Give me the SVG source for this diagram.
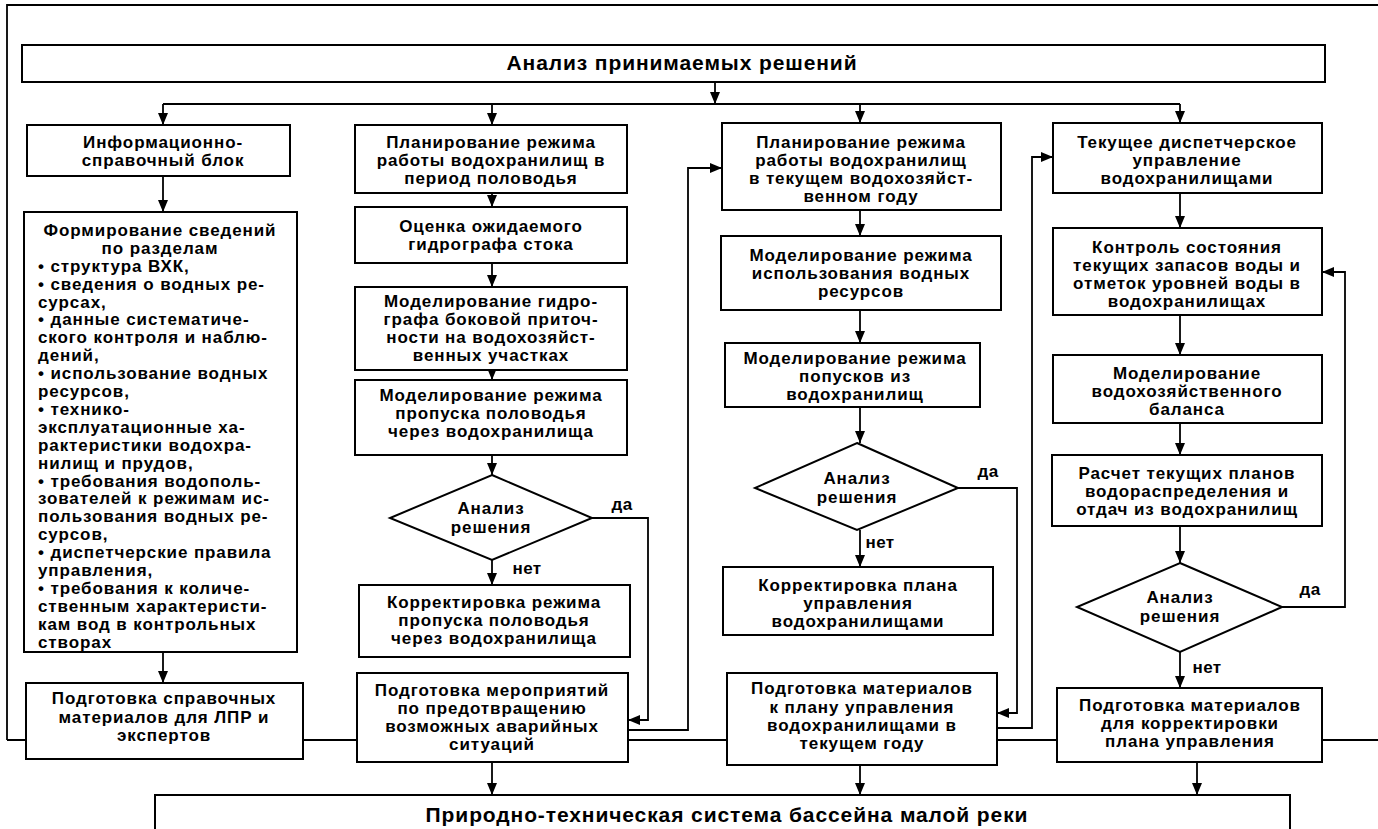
<svg xmlns="http://www.w3.org/2000/svg" width="1378" height="829" viewBox="0 0 1378 829">
<defs>
<marker id="ah" viewBox="0 0 12 10" refX="12" refY="5" markerWidth="12" markerHeight="10" markerUnits="userSpaceOnUse" orient="auto">
<path d="M0,0 L12,5 L0,10 Z" fill="#000"/>
</marker>
<style>
.b{fill:#fff;stroke:#000;stroke-width:2}
.t{font-family:"Liberation Sans",Arial,sans-serif;font-weight:bold;font-size:17px;letter-spacing:0.9px;fill:#000;text-anchor:middle}
.l{text-anchor:start}
.big{font-size:21px;letter-spacing:0.9px}
.lab{font-size:17px;letter-spacing:0.4px}
.c{fill:none;stroke:#000;stroke-width:1.8}
.a{marker-end:url(#ah)}
</style>
</defs>
<rect width="1378" height="829" fill="#fff"/>
<g id="connectors">
<path class="c" d="M7,740 V5 H1378"/>
<path class="c" d="M7,740 H1378"/>
<path class="c a" d="M715,82 V104"/>
<path class="c" d="M163,104 H1180"/>
<path class="c a" d="M163,104 V125"/>
<path class="c a" d="M492,104 V125"/>
<path class="c a" d="M860,104 V123"/>
<path class="c a" d="M1180,104 V123"/>
<path class="c a" d="M163,176 V212"/>
<path class="c a" d="M163,652 V683"/>
<path class="c a" d="M492,193 V207"/>
<path class="c a" d="M492,263 V287"/>
<path class="c a" d="M492,370 V380"/>
<path class="c a" d="M492,455 V475"/>
<path class="c a" d="M492,560 V585"/>
<path class="c a" d="M492,762 V795"/>
<path class="c a" d="M592,518 H648 V720 H628"/>
<path class="c a" d="M628,730 H688 V168 H722"/>
<path class="c a" d="M860,210 V236"/>
<path class="c a" d="M860,310 V343"/>
<path class="c a" d="M860,407 V443"/>
<path class="c a" d="M860,530 V567"/>
<path class="c a" d="M860,765 V795"/>
<path class="c a" d="M958,488 H1017 V713 H997"/>
<path class="c a" d="M997,728 H1032 V157 H1053"/>
<path class="c a" d="M1180,193 V228"/>
<path class="c a" d="M1180,315 V355"/>
<path class="c a" d="M1180,423 V455"/>
<path class="c a" d="M1180,526 V563"/>
<path class="c a" d="M1180,652 V688"/>
<path class="c a" d="M1197,762 V795"/>
<path class="c a" d="M1282,607 H1345 V272 H1322"/>
</g>
<g id="title">
<rect class="b" x="22" y="45" width="1303" height="37"/>
<text class="t big" x="682" y="70">Анализ принимаемых решений</text>
</g>
<g id="info">
<rect class="b" x="27" y="125" width="263" height="51"/>
<text class="t" x="163" y="148">Информационно-</text>
<text class="t" x="163" y="166">справочный блок</text>
</g>
<g id="forming">
<rect class="b" x="24" y="212" width="273" height="440"/>
<text class="t" x="160" y="236">Формирование сведений</text>
<text class="t" x="160" y="254">по разделам</text>
<text class="t l" x="38" y="272">•  структура ВХК,</text>
<text class="t l" x="38" y="290">•  сведения о водных ре-</text>
<text class="t l" x="38" y="308">сурсах,</text>
<text class="t l" x="38" y="325">•  данные систематиче-</text>
<text class="t l" x="38" y="343">ского контроля и наблю-</text>
<text class="t l" x="38" y="361">дений,</text>
<text class="t l" x="38" y="379">•  использование водных</text>
<text class="t l" x="38" y="397">ресурсов,</text>
<text class="t l" x="38" y="415">•  технико-</text>
<text class="t l" x="38" y="433">эксплуатационные ха-</text>
<text class="t l" x="38" y="451">рактеристики водохра-</text>
<text class="t l" x="38" y="469">нилищ и прудов,</text>
<text class="t l" x="38" y="487">•  требования водополь-</text>
<text class="t l" x="38" y="504">зователей к режимам ис-</text>
<text class="t l" x="38" y="522">пользования водных ре-</text>
<text class="t l" x="38" y="540">сурсов,</text>
<text class="t l" x="38" y="558">•  диспетчерские правила</text>
<text class="t l" x="38" y="576">управления,</text>
<text class="t l" x="38" y="594">•  требования к количе-</text>
<text class="t l" x="38" y="612">ственным характеристи-</text>
<text class="t l" x="38" y="630">кам вод в контрольных</text>
<text class="t l" x="38" y="648">створах</text>
</g>
<g id="ref-materials">
<rect class="b" x="26" y="683" width="277" height="76"/>
<text class="t" x="164" y="704">Подготовка справочных</text>
<text class="t" x="164" y="723">материалов для ЛПР и</text>
<text class="t" x="164" y="741">экспертов</text>
</g>
<g id="flood-plan">
<rect class="b" x="355" y="125" width="272" height="68"/>
<text class="t" x="491" y="148">Планирование режима</text>
<text class="t" x="491" y="166">работы водохранилищ в</text>
<text class="t" x="491" y="184">период половодья</text>
</g>
<g id="hydrograph">
<rect class="b" x="355" y="207" width="272" height="56"/>
<text class="t" x="491" y="232">Оценка ожидаемого</text>
<text class="t" x="491" y="250">гидрографа стока</text>
</g>
<g id="lateral">
<rect class="b" x="355" y="287" width="272" height="83"/>
<text class="t" x="491" y="307">Моделирование гидро-</text>
<text class="t" x="491" y="325">графа боковой приточ-</text>
<text class="t" x="491" y="343">ности на водохозяйст-</text>
<text class="t" x="491" y="361">венных участках</text>
</g>
<g id="flood-pass">
<rect class="b" x="355" y="380" width="272" height="75"/>
<text class="t" x="491" y="401">Моделирование режима</text>
<text class="t" x="491" y="419">пропуска половодья</text>
<text class="t" x="491" y="437">через водохранилища</text>
</g>
<g id="decision1">
<polygon class="b" points="492,475 592,518 492,560 390,518"/>
<text class="t" x="491" y="514">Анализ</text>
<text class="t" x="491" y="533">решения</text>
<text class="t lab" x="622" y="510">да</text>
<text class="t lab" x="527" y="574">нет</text>
</g>
<g id="flood-correct">
<rect class="b" x="359" y="585" width="271" height="72"/>
<text class="t" x="494" y="608">Корректировка режима</text>
<text class="t" x="494" y="626">пропуска половодья</text>
<text class="t" x="494" y="644">через водохранилища</text>
</g>
<g id="emergency">
<rect class="b" x="357" y="673" width="271" height="89"/>
<text class="t" x="492" y="696">Подготовка мероприятий</text>
<text class="t" x="492" y="714">по предотвращению</text>
<text class="t" x="492" y="732">возможных аварийных</text>
<text class="t" x="492" y="750">ситуаций</text>
</g>
<g id="year-plan">
<rect class="b" x="722" y="123" width="279" height="87"/>
<text class="t" x="861" y="148">Планирование режима</text>
<text class="t" x="861" y="166">работы водохранилищ</text>
<text class="t" x="861" y="184">в текущем водохозяйст-</text>
<text class="t" x="861" y="202">венном году</text>
</g>
<g id="water-use">
<rect class="b" x="721" y="236" width="280" height="74"/>
<text class="t" x="861" y="261">Моделирование режима</text>
<text class="t" x="861" y="279">использования водных</text>
<text class="t" x="861" y="297">ресурсов</text>
</g>
<g id="releases">
<rect class="b" x="725" y="343" width="255" height="64"/>
<text class="t" x="855" y="364">Моделирование режима</text>
<text class="t" x="855" y="382">попусков из</text>
<text class="t" x="855" y="400">водохранилищ</text>
</g>
<g id="decision2">
<polygon class="b" points="857,443 958,488 857,530 755,488"/>
<text class="t" x="857" y="484">Анализ</text>
<text class="t" x="857" y="503">решения</text>
<text class="t lab" x="988" y="477">да</text>
<text class="t lab" x="880" y="548">нет</text>
</g>
<g id="plan-correct">
<rect class="b" x="723" y="567" width="270" height="68"/>
<text class="t" x="858" y="591">Корректировка плана</text>
<text class="t" x="858" y="609">управления</text>
<text class="t" x="858" y="627">водохранилищами</text>
</g>
<g id="plan-materials">
<rect class="b" x="727" y="673" width="270" height="92"/>
<text class="t" x="862" y="694">Подготовка материалов</text>
<text class="t" x="862" y="713">к плану управления</text>
<text class="t" x="862" y="731">водохранилищами в</text>
<text class="t" x="862" y="749">текущем году</text>
</g>
<g id="dispatch">
<rect class="b" x="1053" y="123" width="269" height="70"/>
<text class="t" x="1187" y="148">Текущее диспетчерское</text>
<text class="t" x="1187" y="166">управление</text>
<text class="t" x="1187" y="184">водохранилищами</text>
</g>
<g id="control">
<rect class="b" x="1053" y="228" width="269" height="87"/>
<text class="t" x="1187" y="253">Контроль состояния</text>
<text class="t" x="1187" y="271">текущих запасов воды и</text>
<text class="t" x="1187" y="289">отметок уровней воды в</text>
<text class="t" x="1187" y="307">водохранилищах</text>
</g>
<g id="balance">
<rect class="b" x="1053" y="355" width="269" height="68"/>
<text class="t" x="1187" y="379">Моделирование</text>
<text class="t" x="1187" y="397">водохозяйственного</text>
<text class="t" x="1187" y="415">баланса</text>
</g>
<g id="distribution">
<rect class="b" x="1052" y="455" width="270" height="71"/>
<text class="t" x="1187" y="479">Расчет текущих планов</text>
<text class="t" x="1187" y="497">водораспределения и</text>
<text class="t" x="1187" y="515">отдач из водохранилищ</text>
</g>
<g id="decision3">
<polygon class="b" points="1180,563 1282,607 1180,652 1077,607"/>
<text class="t" x="1180" y="603">Анализ</text>
<text class="t" x="1180" y="622">решения</text>
<text class="t lab" x="1310" y="595">да</text>
<text class="t lab" x="1207" y="673">нет</text>
</g>
<g id="correct-materials">
<rect class="b" x="1057" y="688" width="265" height="74"/>
<text class="t" x="1190" y="711">Подготовка материалов</text>
<text class="t" x="1190" y="729">для корректировки</text>
<text class="t" x="1190" y="747">плана управления</text>
</g>
<g id="river-system">
<rect class="b" x="155" y="795" width="1135" height="60"/>
<text class="t big" x="727" y="822">Природно-техническая система бассейна малой реки</text>
</g>
</svg>
